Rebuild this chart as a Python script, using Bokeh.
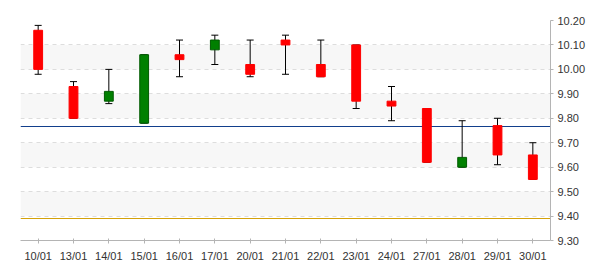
from bokeh.plotting import figure
from bokeh.models import FactorRange, FixedTicker, PrintfTickFormatter
from bokeh.embed import file_html
from bokeh.resources import INLINE

dates = ["10/01", "13/01", "14/01", "15/01", "16/01", "17/01", "20/01", "21/01",
         "22/01", "23/01", "24/01", "27/01", "28/01", "29/01", "30/01"]
opens = [10.16, 9.93, 9.87, 9.78, 10.06, 10.08, 10.02, 10.12, 10.02, 10.10, 9.87, 9.84, 9.60, 9.77, 9.65]
closes = [10.00, 9.80, 9.91, 10.06, 10.04, 10.12, 9.98, 10.10, 9.97, 9.87, 9.85, 9.62, 9.64, 9.65, 9.55]
highs = [10.18, 9.95, 10.00, 10.06, 10.12, 10.14, 10.12, 10.14, 10.12, 10.10, 9.93, 9.84, 9.79, 9.80, 9.70]
lows = [9.98, 9.80, 9.86, 9.78, 9.97, 10.02, 9.97, 9.98, 9.97, 9.84, 9.79, 9.62, 9.60, 9.61, 9.55]
ref_blue = [9.765]
ref_gold = [9.388]
y_ticks = [9.30, 9.40, 9.50, 9.60, 9.70, 9.80, 9.90, 10.00, 10.10, 10.20]

p = figure(width=600, height=270, output_backend="svg", toolbar_location=None,
           x_range=FactorRange(*dates, range_padding=0), y_range=(9.30, 10.20),
           y_axis_location="right",
           min_border_left=20, min_border_top=20, min_border_right=50, min_border_bottom=30)
p.outline_line_color = None
p.background_fill_color = "white"
p.border_fill_color = "white"

p.xgrid.grid_line_color = None
p.ygrid.ticker = FixedTicker(ticks=y_ticks)
p.ygrid.grid_line_color = "#dddddd"
p.ygrid.grid_line_dash = "4 4"
p.ygrid.band_fill_color = "#f7f7f7"
p.ygrid.band_fill_alpha = 1.0

yax = p.yaxis[0]
yax.ticker = FixedTicker(ticks=y_ticks)
yax.formatter = PrintfTickFormatter(format="%.2f")
yax.axis_line_color = "#b4b4b4"
yax.major_tick_line_color = "#b4b4b4"
yax.major_tick_in = 0
yax.major_tick_out = 3
yax.minor_tick_line_color = None
yax.major_label_standoff = 4
yax.major_label_text_font = "Liberation Sans"
yax.major_label_text_font_size = "11px"
yax.major_label_text_color = "#333333"

xax = p.xaxis[0]
xax.axis_line_color = "#b4b4b4"
xax.major_tick_line_color = "#b4b4b4"
xax.major_tick_in = 2
xax.major_tick_out = 3
xax.major_label_standoff = 6
xax.major_label_text_font = "Liberation Sans"
xax.major_label_text_font_size = "11px"
xax.major_label_text_color = "#333333"

p.hspan(y=ref_blue, line_color="#123f8c", line_width=1)
p.hspan(y=ref_gold, line_color="#d4a20a", line_width=1)

p.segment(x0=dates, y0=lows, x1=dates, y1=highs, line_color="black", line_width=1)
p.scatter(x=dates + dates, y=highs + lows, marker="dash", size=7,
          line_color="black", line_width=1)

tops = [max(o, c) for o, c in zip(opens, closes)]
bottoms = [min(o, c) for o, c in zip(opens, closes)]
fills = ["#008000" if c > o else "#ff0000" for o, c in zip(opens, closes)]
edges = ["#005a00" if c > o else "#ff0000" for o, c in zip(opens, closes)]
p.vbar(x=dates, top=tops, bottom=bottoms, width=0.25, fill_color=fills, line_color=edges, line_width=1)

open("out.html", "w").write(file_html(p, INLINE))
